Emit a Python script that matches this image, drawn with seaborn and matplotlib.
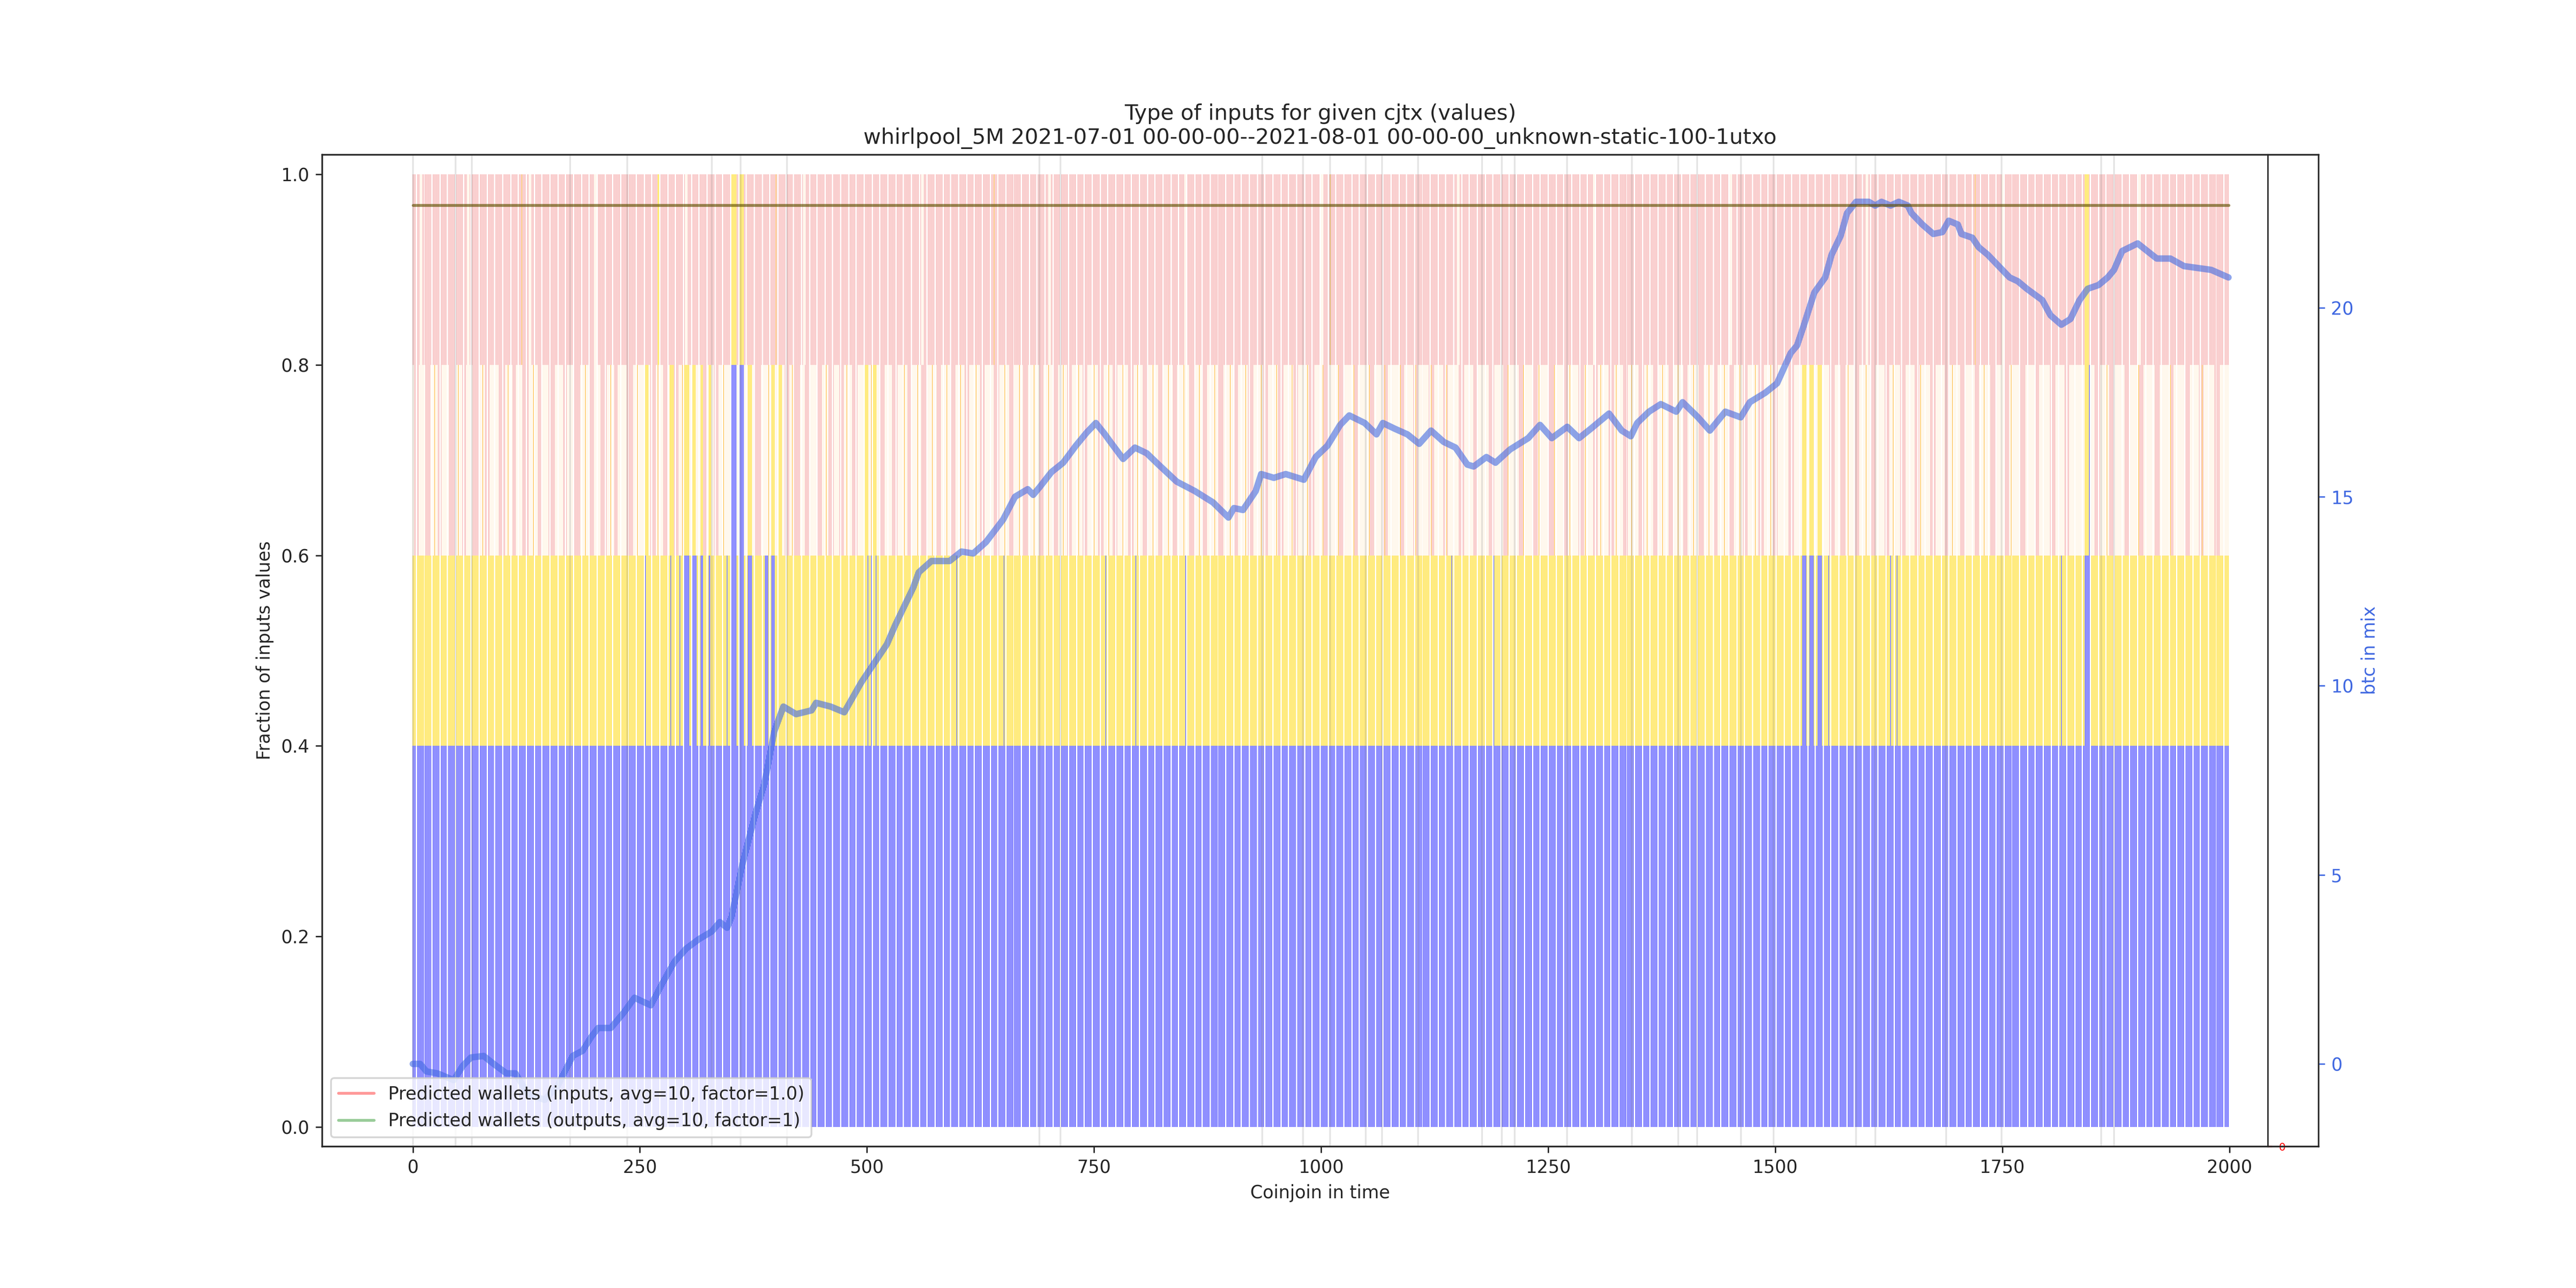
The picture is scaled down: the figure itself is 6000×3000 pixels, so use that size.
import numpy as np
import pandas as pd
import seaborn as sns
import matplotlib
matplotlib.use('Agg')
import matplotlib.pyplot as plt

sns.set_style('ticks')
plt.rcParams['axes.linewidth'] = 0.8

# ---------------- data ----------------
n_cjtx = 2000

# segment 0.6-0.8 colour exceptions (default: light)
mid_pink_runs = [(2, 6), (14, 19), (28, 31), (40, 46), (55, 58), (66, 72), (80, 84), (95, 101), (110, 113),
                 (121, 127), (138, 142), (150, 156), (166, 169), (178, 184), (195, 199), (207, 213), (222, 225),
                 (236, 242), (262, 267), (276, 281), (288, 292), (320, 324), (332, 336), (377, 383), (410, 414),
                 (420, 426), (432, 437), (445, 450), (458, 463), (470, 474), (484, 489), (515, 519), (528, 533),
                 (545, 549), (560, 565), (577, 581), (592, 597), (608, 612), (625, 629), (640, 645), (657, 661),
                 (672, 677), (690, 694), (705, 710), (721, 725), (738, 742), (755, 760), (771, 775), (788, 793),
                 (804, 808), (821, 826), (837, 841), (855, 860), (870, 874), (887, 892), (904, 908), (920, 925),
                 (937, 941), (953, 958), (970, 974), (987, 992), (1003, 1007), (1020, 1025), (1036, 1040),
                 (1053, 1058), (1069, 1073), (1086, 1091), (1102, 1106), (1119, 1124), (1135, 1139), (1152, 1157),
                 (1168, 1172), (1185, 1190), (1201, 1205), (1218, 1223), (1234, 1238), (1251, 1256), (1267, 1271),
                 (1284, 1289), (1300, 1304), (1317, 1322), (1333, 1337), (1350, 1355), (1366, 1370), (1383, 1388),
                 (1399, 1403), (1416, 1421), (1432, 1436), (1449, 1454), (1465, 1469), (1482, 1487), (1498, 1502),
                 (1515, 1520), (1560, 1565), (1572, 1577), (1588, 1592), (1605, 1610), (1621, 1625), (1638, 1643),
                 (1654, 1658), (1671, 1676), (1687, 1691), (1704, 1709), (1720, 1724), (1737, 1742), (1753, 1757),
                 (1770, 1775), (1786, 1790), (1803, 1808), (1819, 1823), (1852, 1857), (1868, 1872), (1885, 1890),
                 (1901, 1905), (1918, 1923), (1934, 1938), (1951, 1956), (1967, 1971), (1984, 1989)]
mid_orange = [24, 50, 77, 105, 133, 160, 190, 218, 247, 270, 297, 342, 392, 418, 455, 478, 505, 523, 541, 556,
              572, 588, 603, 620, 636, 652, 668, 684, 700, 716, 733, 750, 766, 782, 798, 815, 832, 849, 866, 883,
              900, 917, 934, 951, 968, 985, 1002, 1019, 1036, 1053, 1070, 1087, 1104, 1121, 1138, 1155, 1172,
              1189, 1206, 1223, 1240, 1257, 1274, 1291, 1308, 1325, 1342, 1359, 1376, 1393, 1410, 1427, 1444,
              1461, 1478, 1495, 1580, 1600, 1630, 1660, 1695, 1730, 1760, 1795, 1830, 1865, 1900, 1935, 1970]
mid_gold_runs = [(256, 259), (283, 287), (299, 304), (308, 311), (317, 319), (326, 328), (369, 373), (395, 398),
                 (403, 406), (498, 501), (507, 510), (1530, 1534), (1538, 1542), (1547, 1551), (1841, 1845)]
mid_blue_runs = [(351, 356), (360, 364), (1846, 1846)]

# segment 0.4-0.6 blue exceptions (default: gold)
low_blue_runs = [(256, 256), (284, 284), (294, 294), (299, 304), (308, 312), (317, 319), (326, 327), (346, 346),
                 (351, 356), (360, 364), (369, 373), (388, 391), (395, 398), (501, 501), (505, 505), (510, 510),
                 (599, 599), (651, 651), (763, 763), (796, 796), (851, 851), (1144, 1144), (1190, 1190),
                 (1241, 1241), (1530, 1534), (1538, 1542), (1547, 1551), (1559, 1559), (1627, 1627),
                 (1634, 1634), (1815, 1815), (1841, 1846)]

# segment 0.8-1.0 exceptions (default: pink)
top_gold_runs = [(270, 271), (351, 356), (360, 364), (1841, 1845)]
top_light_runs = [(8, 10), (60, 62), (128, 130), (200, 202), (300, 302), (430, 432), (560, 562), (700, 702),
                  (850, 852), (1000, 1002), (1150, 1152), (1300, 1302), (1450, 1452), (1600, 1602),
                  (1750, 1752), (1900, 1902)]
top_orange = [120, 400, 640, 1010, 1380, 1720]

# day boundaries
day_marks = [0, 47, 65, 173, 236, 329, 361, 412, 690, 713, 935, 980, 1010, 1049, 1067, 1107, 1177, 1199,
             1213, 1271, 1342, 1393, 1414, 1462, 1498, 1589, 1610, 1688, 1749, 1859, 1873]

# btc in mix
btc_x = [0, 8, 15, 27, 36, 45, 55, 64, 78, 89, 103, 113, 127, 145, 159, 176, 187, 196, 204, 218, 232, 244,
         262, 274, 288, 301, 315, 329, 338, 346, 351, 363, 377, 387, 398, 408, 422, 439, 444, 460, 475, 494,
         508, 522, 531, 544, 551, 557, 571, 591, 604, 617, 631, 650, 663, 677, 683, 690, 703, 716, 730, 742,
         752, 762, 768, 782, 795, 808, 821, 841, 861, 881, 898, 904, 914, 928, 934, 948, 961, 981, 994, 1007,
         1021, 1031, 1048, 1061, 1068, 1081, 1095, 1108, 1121, 1135, 1148, 1161, 1168, 1182, 1192, 1208, 1228,
         1241, 1254, 1271, 1284, 1297, 1317, 1331, 1341, 1348, 1361, 1374, 1391, 1398, 1415, 1428, 1445, 1462,
         1472, 1489, 1502, 1517, 1524, 1531, 1543, 1555, 1562, 1572, 1579, 1589, 1603, 1610, 1617, 1627, 1636,
         1646, 1650, 1662, 1674, 1684, 1691, 1701, 1705, 1717, 1724, 1734, 1746, 1758, 1767, 1777, 1794, 1803,
         1815, 1825, 1835, 1844, 1856, 1866, 1873, 1882, 1899, 1920, 1935, 1950, 1980, 1999]
btc_y = [0.0, 0.0, -0.2, -0.25, -0.34, -0.43, -0.05, 0.17, 0.21, 0.0, -0.25, -0.25, -0.8, -0.95, -0.6, 0.21,
         0.35, 0.7, 0.95, 0.95, 1.35, 1.75, 1.55, 2.1, 2.7, 3.05, 3.3, 3.5, 3.75, 3.6, 3.9, 5.3, 6.6, 7.4, 8.8,
         9.45, 9.25, 9.35, 9.55, 9.45, 9.3, 10.1, 10.6, 11.1, 11.6, 12.25, 12.6, 13.0, 13.3, 13.3, 13.55, 13.5,
         13.8, 14.4, 15.0, 15.2, 15.05, 15.25, 15.65, 15.9, 16.35, 16.7, 16.95, 16.65, 16.45, 16.0, 16.3, 16.15,
         15.85, 15.4, 15.15, 14.85, 14.45, 14.7, 14.65, 15.15, 15.6, 15.5, 15.6, 15.45, 16.05, 16.35, 16.9,
         17.15, 16.95, 16.65, 16.95, 16.8, 16.65, 16.4, 16.75, 16.45, 16.3, 15.85, 15.8, 16.05, 15.9, 16.25,
         16.55, 16.9, 16.55, 16.85, 16.55, 16.8, 17.2, 16.75, 16.6, 16.95, 17.25, 17.45, 17.25, 17.5, 17.1,
         16.75, 17.25, 17.1, 17.5, 17.75, 18.0, 18.8, 19.0, 19.5, 20.4, 20.8, 21.4, 21.9, 22.5, 22.8, 22.8, 22.7,
         22.8, 22.7, 22.8, 22.7, 22.5, 22.2, 21.95, 22.0, 22.3, 22.2, 21.95, 21.85, 21.6, 21.4, 21.1, 20.8, 20.7,
         20.5, 20.2, 19.8, 19.55, 19.7, 20.2, 20.5, 20.6, 20.8, 21.0, 21.5, 21.7, 21.3, 21.3, 21.1, 21.0, 20.8]

predicted_wallets_inputs = 10
predicted_wallets_outputs = 10

# ---------------- build per-bar colours ----------------
C_BLUE, C_GOLD, C_ORANGE = '#1f1fff', '#ffd700', '#ffa500'
C_PINK, C_LIGHT = '#f4a0a0', '#fff1dc'

seg = [[C_BLUE] * n_cjtx, [C_BLUE] * n_cjtx, [C_GOLD] * n_cjtx, [C_LIGHT] * n_cjtx, [C_PINK] * n_cjtx]


def paint(level, runs, color):
    for a, b in runs:
        for i in range(a, b + 1):
            seg[level][i] = color


paint(3, mid_pink_runs, C_PINK)
paint(3, [(i, i) for i in mid_orange], C_ORANGE)
paint(3, mid_gold_runs, C_GOLD)
paint(3, mid_blue_runs, C_BLUE)
paint(2, low_blue_runs, C_BLUE)
paint(4, top_light_runs, C_LIGHT)
paint(4, [(i, i) for i in top_orange], C_ORANGE)
paint(4, top_gold_runs, C_GOLD)

df_btc = pd.DataFrame({'cjtx': btc_x, 'btc': btc_y})

# ---------------- plot ----------------
fig, ax = plt.subplots(figsize=(20, 10))
x = np.arange(n_cjtx)
for level in range(5):
    ax.bar(x, 0.2, bottom=0.2 * level, width=0.42, color=seg[level], linewidth=0)
for d in day_marks:
    ax.axvline(d, color='gray', alpha=0.2, linewidth=1, zorder=3)

ax.set_xlim(-100, 2098)
ax.set_ylim(-0.0203, 1.0208)
ax.set_yticks([0.0, 0.2, 0.4, 0.6, 0.8, 1.0])
ax.set_xlabel('Coinjoin in time')
ax.set_ylabel('Fraction of inputs values')
ax.set_title('Type of inputs for given cjtx (values)\n'
             'whirlpool_5M 2021-07-01 00-00-00--2021-08-01 00-00-00_unknown-static-100-1utxo')

ax2 = ax.twinx()
sns.lineplot(data=df_btc, x='cjtx', y='btc', ax=ax2, color='royalblue', alpha=0.6, linewidth=3.6)
ax2.set_ylim(-2.18, 24.05)
ax2.set_ylabel('btc in mix', color='royalblue')
ax2.tick_params(axis='y', colors='royalblue')
ax2.set_xlabel('')

ax3 = ax.twinx()
ax3.spines['right'].set_position(('axes', 0.9746))
ax3.plot([0, n_cjtx - 1], [predicted_wallets_inputs] * 2, color='red', alpha=0.4, linewidth=1.6,
         label='Predicted wallets (inputs, avg=10, factor=1.0)')
ax3.plot([0, n_cjtx - 1], [predicted_wallets_outputs] * 2, color='green', alpha=0.4, linewidth=1.6,
         label='Predicted wallets (outputs, avg=10, factor=1)')
ax3.set_ylim(0, 10.54)
ax3.set_yticks([0])
ax3.tick_params(axis='y', colors='red', labelsize=6, length=2.5)
ax3.legend(loc='lower left')

fig.savefig('out.png', dpi=300)
